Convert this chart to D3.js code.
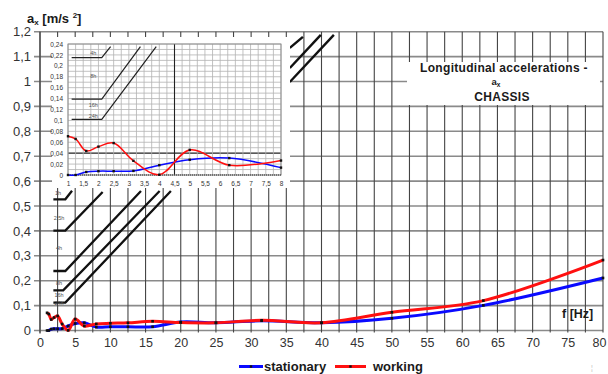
<!DOCTYPE html>
<html><head><meta charset="utf-8">
<script src="https://cdn.jsdelivr.net/npm/d3@7"></script>
<style>
html,body{margin:0;padding:0;background:#fff;}
svg{display:block;font-family:"Liberation Sans",Arial,sans-serif;}
</style></head><body>
<svg id="c" width="608" height="374"></svg>
<script>
// ---------- data ----------
const freq = [1, 1.25, 1.6, 2, 2.5, 3.15, 4, 5, 6.3, 8, 10, 12.5, 16, 20, 25, 31.5, 40, 50, 63, 80];
const stationary = [0, 0, 0.0055, 0.007, 0.007, 0.0075, 0.018, 0.028, 0.031, 0.0135, 0.015, 0.015, 0.015, 0.034, 0.031, 0.039, 0.031, 0.049, 0.101, 0.211];
const working = [0.071, 0.066, 0.044, 0.052, 0.0585, 0.026, 0.0005, 0.046, 0.018, 0.0265, 0.029, 0.031, 0.037, 0.032, 0.031, 0.041, 0.031, 0.073, 0.12, 0.283];
const seriesNames = ["stationary", "working"];
const seriesColors = ["#0a0aff", "#ff1010"];

const xTickValues = d3.range(0, 81, 5);
const xGridValues = d3.range(0, 80.01, 2.5);
const yTickValues = d3.range(0, 13).map(i => +(i / 10).toFixed(1));

const insetXTicks = d3.range(2, 17).map(i => i / 2);
const insetXGrid = d3.range(4, 33).map(i => i / 4);
const insetYTicks = d3.range(0, 13).map(i => +(i * 0.02).toFixed(2));
const insetYGrid = d3.range(0, 25).map(i => +(i * 0.01).toFixed(2));
const insetFreqMax = 8;

// exposure-limit lines (main chart) : [f, a] vertices
const limitLinesMain = [
  [[1.9, 0.527], [3.6, 0.527], [4.55, 0.561]],
  [[1.9, 0.401], [3.6, 0.401], [8.9, 0.556]],
  [[1.9, 0.239], [3.6, 0.239], [14.35, 0.56]],
  [[1.9, 0.161], [3.3, 0.161], [17.0, 0.56]],
  [[1.9, 0.112], [3.6, 0.112], [18.6, 0.56]]
];
const limitLabelTextMain = ["1h", "2,5h", "4h", "8h", "16h", "24h"];
const limitLabelPosMain = [[2.55, 0.551], [2.7, 0.452], [2.7, 0.331], [2.7, 0.192], [2.7, 0.141], [2.7, 0.109]];
// continuation segments at upper right
const limitSegsTop = [
  [[35.5, 1.135], [37.36, 1.179]],
  [[35.5, 1.054], [39.9, 1.187]],
  [[35.5, 0.998], [41.76, 1.187]]
];
// exposure-limit lines (inset)
const limitLinesInset = [
  [[1.12, 0.215], [2.11, 0.215], [2.4, 0.235]],
  [[1.12, 0.139], [2.11, 0.139], [3.38, 0.235]],
  [[1.12, 0.102], [2.11, 0.102], [3.9, 0.235]]
];
const limitLabelTextInset = ["4h", "8h", "16h", "24h"];
const limitLabelPosInset = [[1.83, 0.223], [1.83, 0.181], [1.83, 0.129], [1.83, 0.109]];

// ---------- scales ----------
const svg = d3.select("#c");
const x = d3.scaleLinear().domain([0, 80]).range([40, 603]);
const y = d3.scaleLinear().domain([0, 1.2]).range([330.5, 31.7]);
const xi = d3.scaleLinear().domain([1, 8]).range([68, 281]);
const yi = d3.scaleLinear().domain([0, 0.24]).range([175, 44]);
const fmt = v => String(v).replace(".", ",");
const FONT = "Liberation Sans, Arial, sans-serif";

// ---------- main grid ----------
const g = svg.append("g");
g.selectAll("line.hg").data(yTickValues).join("line")
  .attr("x1", x(0) - 6).attr("x2", x(80))
  .attr("y1", d => y(d)).attr("y2", d => y(d))
  .attr("stroke", "#8a8a8a").attr("stroke-width", 1.6);
g.selectAll("line.vg").data(xGridValues).join("line")
  .attr("x1", d => x(d)).attr("x2", d => x(d))
  .attr("y1", y(1.2)).attr("y2", y(0) + 2)
  .attr("stroke", "#444").attr("stroke-width", 1.1);
g.append("line").attr("x1", x(0)).attr("x2", x(0)).attr("y1", y(1.2)).attr("y2", y(0) + 3)
  .attr("stroke", "#555").attr("stroke-width", 1.4);

// y tick labels
const yAxis = d3.axisLeft(y).tickValues(yTickValues).tickSize(0).tickPadding(9).tickFormat(fmt);
const ya = svg.append("g").attr("transform", `translate(${x(0)},0)`).call(yAxis);
ya.select(".domain").remove();
ya.selectAll("text").attr("font-size", 13).attr("fill", "#333").attr("font-family", FONT);
// x tick labels
const xAxis = d3.axisBottom(x).tickValues(xTickValues).tickSize(0).tickPadding(8);
const xa = svg.append("g").attr("transform", `translate(0,${y(0)})`).call(xAxis);
xa.select(".domain").remove();
xa.selectAll("text").attr("font-size", 12.5).attr("fill", "#333").attr("font-family", FONT)
  .attr("dx", d => d === 80 ? -4 : 0);

// main limit lines
const lineXY = d3.line().x(d => x(d[0])).y(d => y(d[1]));
svg.selectAll("path.lim").data(limitLinesMain).join("path")
  .attr("d", lineXY).attr("fill", "none").attr("stroke", "#111").attr("stroke-width", 2.3);
svg.selectAll("text.liml").data(limitLabelTextMain).join("text")
  .attr("x", (d, i) => x(limitLabelPosMain[i][0])).attr("y", (d, i) => y(limitLabelPosMain[i][1]) + 2)
  .attr("text-anchor", "middle").attr("font-size", 5.5).attr("fill", "#555").text(d => d);
svg.selectAll("path.limt").data(limitSegsTop).join("path")
  .attr("d", lineXY).attr("fill", "none").attr("stroke", "#111").attr("stroke-width", 2.4);

// title box
svg.append("rect").attr("x", 407).attr("y", 62).attr("width", 193).attr("height", 43).attr("fill", "#fff");
const tt = svg.append("g").attr("font-weight", "bold").attr("fill", "#1a1a1a").attr("text-anchor", "middle");
tt.append("text").attr("x", 504).attr("y", 72).attr("font-size", 12).attr("letter-spacing", 0.3).text("Longitudinal accelerations -");
const t2 = tt.append("text").attr("x", 496).attr("y", 85).attr("font-size", 9.5);
t2.append("tspan").text("a");
t2.append("tspan").attr("font-size", 6.5).attr("dy", 1.5).text("x");
tt.append("text").attr("x", 502).attr("y", 101).attr("font-size", 12).attr("letter-spacing", 0.3).text("CHASSIS");

// main curves
const curveLine = d3.line().curve(d3.curveCatmullRom.alpha(0.5)).x(d => x(d[0])).y(d => y(d[1]));
const seriesData = [stationary, working].map(vals => freq.map((f, i) => [f, vals[i]]));
svg.selectAll("path.ser").data(seriesData).join("path")
  .attr("d", curveLine).attr("fill", "none")
  .attr("stroke", (d, i) => seriesColors[i]).attr("stroke-width", 3).attr("stroke-linejoin", "round");
seriesData.forEach(s => {
  svg.append("g").selectAll("rect").data(s).join("rect")
    .attr("x", d => x(d[0]) - 1.3).attr("y", d => y(d[1]) - 1.3).attr("width", 2.6).attr("height", 2.6).attr("fill", "#111");
});

// ---------- inset ----------
svg.append("rect").attr("x", 52).attr("y", 37).attr("width", 238).attr("height", 151).attr("fill", "#fff");
const ig = svg.append("g");
const isDarkY = d => Math.abs(d - 0.04) < 1e-6;
ig.selectAll("line.ihg").data(insetYGrid).join("line")
  .attr("x1", xi(1)).attr("x2", xi(8)).attr("y1", d => yi(d)).attr("y2", d => yi(d))
  .attr("stroke", d => isDarkY(d) ? "#222" : "#b3b3b3").attr("stroke-width", d => isDarkY(d) ? 1.1 : 0.8);
ig.selectAll("line.ivg").data(insetXGrid).join("line")
  .attr("x1", d => xi(d)).attr("x2", d => xi(d)).attr("y1", yi(0.24)).attr("y2", yi(0))
  .attr("stroke", d => d === 4.5 ? "#222" : "#b3b3b3").attr("stroke-width", d => d === 4.5 ? 1.1 : 0.8);
ig.append("rect").attr("x", xi(1)).attr("y", yi(0.24)).attr("width", xi(8) - xi(1)).attr("height", yi(0) - yi(0.24))
  .attr("fill", "none").attr("stroke", "#888").attr("stroke-width", 0.9);
ig.append("line").attr("x1", xi(1)).attr("x2", xi(8)).attr("y1", yi(0)).attr("y2", yi(0))
  .attr("stroke", "#333").attr("stroke-width", 1).attr("stroke-dasharray", "1,1");

const lineI = d3.line().x(d => xi(d[0])).y(d => yi(d[1]));
ig.selectAll("path.ilim").data(limitLinesInset).join("path")
  .attr("d", lineI).attr("fill", "none").attr("stroke", "#222").attr("stroke-width", 1.2);
ig.selectAll("text.ilbl").data(limitLabelTextInset).join("text")
  .attr("x", (d, i) => xi(limitLabelPosInset[i][0])).attr("y", (d, i) => yi(limitLabelPosInset[i][1]) + 2)
  .attr("text-anchor", "middle").attr("font-size", 5.5).attr("fill", "#555").text(d => d);

const curveI = d3.line().curve(d3.curveCatmullRom.alpha(0.5)).x(d => xi(d[0])).y(d => yi(d[1]));
const insetData = seriesData.map(s => s.filter(d => d[0] <= insetFreqMax));
ig.selectAll("path.iser").data(insetData).join("path")
  .attr("d", curveI).attr("fill", "none")
  .attr("stroke", (d, i) => seriesColors[i]).attr("stroke-width", 1.5);
insetData.forEach(s => {
  ig.append("g").selectAll("rect").data(s).join("rect")
    .attr("x", d => xi(d[0]) - 1.2).attr("y", d => yi(d[1]) - 1.2).attr("width", 2.4).attr("height", 2.4).attr("fill", "#111");
});
const ixa = ig.append("g").attr("transform", `translate(0,${yi(0)})`)
  .call(d3.axisBottom(xi).tickValues(insetXTicks).tickSize(0).tickPadding(6).tickFormat(fmt));
ixa.select(".domain").remove();
ixa.selectAll("text").attr("font-size", 6.5).attr("fill", "#333").attr("font-family", FONT);
const iya = ig.append("g").attr("transform", `translate(${xi(1)},0)`)
  .call(d3.axisLeft(yi).tickValues(insetYTicks).tickSize(0).tickPadding(5).tickFormat(fmt));
iya.select(".domain").remove();
iya.selectAll("text").attr("font-size", 6.5).attr("fill", "#333").attr("font-family", FONT);

// ---------- axis titles ----------
const yt = svg.append("text").attr("x", 27).attr("y", 23).attr("font-size", 13).attr("font-weight", "bold").attr("fill", "#1a1a1a");
yt.append("tspan").text("a");
yt.append("tspan").attr("font-size", 8).attr("dy", 2).text("x");
yt.append("tspan").attr("dy", -2).text(" [m/s ");
yt.append("tspan").attr("font-size", 8).attr("dy", -5).text("2");
yt.append("tspan").attr("dy", 5).text("]");
svg.append("text").attr("x", 562).attr("y", 318).attr("font-size", 12.5).attr("font-weight", "bold").attr("fill", "#1a1a1a").text("f [Hz]");

// ---------- legend ----------
const legX = [239, 335];
const leg = svg.append("g");
seriesNames.forEach((n, i) => {
  const lg = leg.append("g").attr("transform", `translate(${legX[i]},366.5)`);
  lg.append("line").attr("x1", 0).attr("x2", i === 0 ? 24 : 31).attr("y1", 0).attr("y2", 0)
    .attr("stroke", seriesColors[i]).attr("stroke-width", 3);
  lg.append("rect").attr("x", (i === 0 ? 12 : 15.5) - 1.2).attr("y", -1.2).attr("width", 2.4).attr("height", 2.4).attr("fill", "#111");
  lg.append("text").attr("x", i === 0 ? 25 : 38).attr("y", 4.3).attr("font-size", 13).attr("font-weight", "bold")
    .attr("fill", "#1a1a1a").text(n);
});
svg.append("text").attr("x", 591).attr("y", 370).attr("font-size", 7).attr("fill", "#bbb").text("¦");
</script>
</body></html>
